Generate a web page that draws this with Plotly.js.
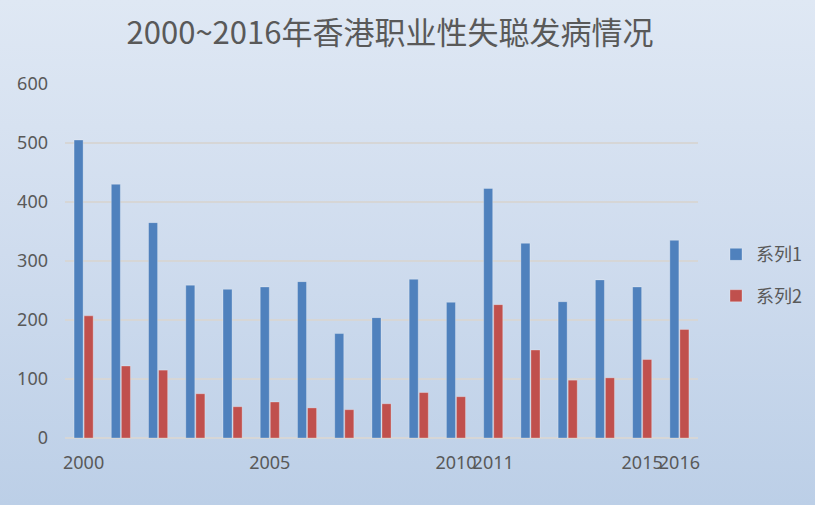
<!DOCTYPE html>
<html>
<head>
<meta charset="utf-8">
<script src="https://cdn.plot.ly/plotly-3.0.1.min.js"></script>
<style>
html,body{margin:0;padding:0;}
#chart{width:815px;height:505px;background:linear-gradient(to bottom,#dfe8f4 0%,#cfdcee 50%,#bccfe7 100%);}
</style>
</head>
<body>
<div id="chart"></div>
<script>
var years = ['2000','2001','2002','2003','2004','2005','2006','2007','2008','2009','2010','2011','2012','2013','2014','2015','2016'];
var series1 = [505, 430, 365, 259, 252, 256, 265, 177, 204, 269, 230, 423, 330, 231, 268, 256, 335];
var series2 = [207, 122, 115, 75, 53, 61, 51, 48, 58, 77, 70, 226, 149, 98, 102, 133, 184];
var xTickLabels = ['2000','2005','2010','2011','2015','2016'];
var seriesNames = ['系列1','系列2'];

var fontFam = 'Noto Sans, Noto Sans CJK SC, sans-serif';
var textColor = '#595959';

var traces = [
  {type:'bar', name:seriesNames[0], x:years, y:series1, legendgroup:'a',
   marker:{color:'#4f81bd', line:{color:'rgba(255,255,255,0.35)', width:0.8}}},
  {type:'bar', name:seriesNames[1], x:years, y:series2, legendgroup:'b',
   marker:{color:'#c0504d', line:{color:'rgba(255,255,255,0.35)', width:0.8}}}
];

var layout = {
  width:815, height:505,
  paper_bgcolor:'rgba(0,0,0,0)', plot_bgcolor:'rgba(0,0,0,0)',
  margin:{l:65, r:117, t:84, b:67, pad:0, autoexpand:false},
  font:{family:fontFam, color:textColor, size:18},
  title:{text:'2000~2016年香港职业性失聪发病情况', x:390/815, xanchor:'center', xref:'container',
         y:1-33/505, yanchor:'middle', yref:'container',
         font:{family:'Noto Sans CJK SC, sans-serif', size:31, color:textColor}},
  barmode:'group', bargap:0.46, bargroupgap:0.1,
  xaxis:{type:'category', tickmode:'array', tickvals:xTickLabels, ticktext:xTickLabels,
         tickangle:0, showgrid:false, showline:false, zeroline:false, ticks:'',
         ticklabelstandoff:12, tickfont:{size:18, color:textColor}},
  yaxis:{range:[0,600], tickvals:[0,100,200,300,400,500,600], showgrid:true,
         gridcolor:'#d6d6d6', gridwidth:1.6, zeroline:true, zerolinecolor:'#d6d6d6',
         zerolinewidth:2.2, showline:false, ticks:'', ticklabelstandoff:16,
         tickfont:{size:18, color:textColor}},
  showlegend:true,
  legend:{x:716/815, xref:'container', xanchor:'left', y:0.46, yanchor:'middle', traceorder:'grouped',
          tracegroupgap:15, bgcolor:'rgba(0,0,0,0)', font:{size:18, color:textColor,
          family:'Noto Sans CJK SC, sans-serif'}, itemwidth:30}
};

Plotly.newPlot('chart', traces, layout, {displayModeBar:false, staticPlot:true});
</script>
</body>
</html>
